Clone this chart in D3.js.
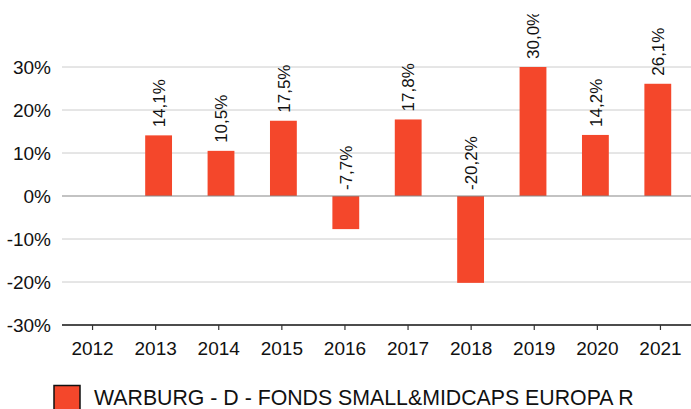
<!DOCTYPE html>
<html>
<head>
<meta charset="utf-8">
<script src="https://cdn.jsdelivr.net/npm/d3@7"></script>
<style>
  body { margin: 0; background: #fff; }
  text { font-family: "Liberation Sans", Arial, sans-serif; fill: #111; }
</style>
</head>
<body>
<div id="chart"></div>
<script>
// data
var years = ['2012', '2013', '2014', '2015', '2016', '2017', '2018', '2019', '2020', '2021'];
var returns = [null, 14.1, 10.5, 17.5, -7.7, 17.8, -20.2, 30.0, 14.2, 26.1];
var yTicks = [-30, -20, -10, 0, 10, 20, 30];
var seriesName = 'WARBURG - D - FONDS SMALL&MIDCAPS EUROPA R';

var width = 691, height = 409;
var barColor = '#f4472b';

var svg = d3.select('#chart').append('svg')
  .attr('width', width)
  .attr('height', height);

// scales
var y = d3.scaleLinear().domain([-30, 30]).range([325, 67]);
var xAxisScale = d3.scaleBand().domain(years).range([61, 692]);
var xBar = d3.scaleBand().domain(years).range([65, 689]).paddingInner(0.57).paddingOuter(0.285);

// gridlines
svg.append('g')
  .selectAll('line')
  .data(yTicks.filter(function(d) { return d !== 0 && d !== -30; }))
  .enter().append('line')
  .attr('x1', 62).attr('x2', width)
  .attr('y1', function(d) { return y(d); })
  .attr('y2', function(d) { return y(d); })
  .attr('stroke', '#cccccc')
  .attr('stroke-width', 1);

// y labels
svg.append('g')
  .selectAll('text')
  .data(yTicks)
  .enter().append('text')
  .attr('x', 51)
  .attr('y', function(d) { return y(d); })
  .attr('dy', '0.36em')
  .attr('text-anchor', 'end')
  .style('font-size', '19px')
  .text(function(d) { return d + '%'; });

// bars
var data = years.map(function(d, i) { return {year: d, value: returns[i]}; })
  .filter(function(d) { return d.value !== null; });

svg.append('g')
  .selectAll('rect')
  .data(data)
  .enter().append('rect')
  .attr('x', function(d) { return xBar(d.year); })
  .attr('width', xBar.bandwidth())
  .attr('y', function(d) { return y(Math.max(0, d.value)); })
  .attr('height', function(d) { return Math.abs(y(d.value) - y(0)); })
  .attr('fill', barColor);

// zero line
svg.append('line')
  .attr('x1', 62).attr('x2', width)
  .attr('y1', y(0)).attr('y2', y(0))
  .attr('stroke', '#888888')
  .attr('stroke-width', 1.2);

// x axis
var xAxis = svg.append('g')
  .attr('transform', 'translate(0,' + y(-30) + ')')
  .call(d3.axisBottom(xAxisScale).tickSize(5).tickPadding(12).tickSizeOuter(0));
xAxis.select('.domain').attr('stroke', '#111').attr('stroke-width', 1.6)
  .attr('d', 'M62,0H' + width);
xAxis.selectAll('.tick line').attr('stroke', '#333').attr('stroke-width', 1.2);
xAxis.selectAll('.tick text')
  .style('font-size', '19px')
  .style('font-family', '"Liberation Sans", Arial, sans-serif')
  .attr('fill', '#111');

// value labels
svg.append('clipPath').attr('id', 'labelClip')
  .append('rect').attr('x', 0).attr('y', 14).attr('width', width).attr('height', height);

svg.append('g')
  .attr('clip-path', 'url(#labelClip)')
  .selectAll('text')
  .data(data)
  .enter().append('text')
  .attr('transform', function(d) {
    var ty = d.value >= 0 ? y(d.value) - 8 : y(0) - 6;
    return 'translate(' + (xBar(d.year) + xBar.bandwidth() / 2) + ',' + ty + ') rotate(-90)';
  })
  .attr('dy', '0.36em')
  .attr('text-anchor', 'start')
  .style('font-size', '17px')
  .text(function(d) { return d.value.toFixed(1).replace('.', ',') + '%'; });

// legend
var legend = svg.append('g');
legend.append('rect')
  .attr('x', 54).attr('y', 385.5)
  .attr('width', 26).attr('height', 26)
  .attr('fill', barColor)
  .attr('stroke', '#111')
  .attr('stroke-width', 1.5);
legend.append('text')
  .attr('x', 94)
  .attr('y', 404.5)
  .style('font-size', '21.3px')
  .text(seriesName);
</script>
</body>
</html>
